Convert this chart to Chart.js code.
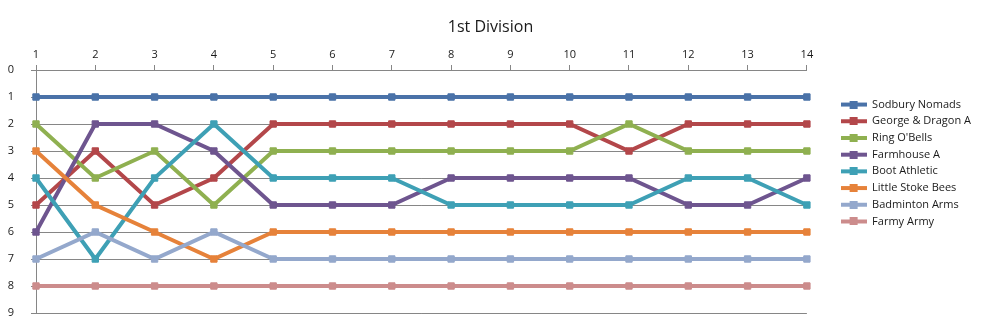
<!DOCTYPE html>
<html>
<head>
<meta charset="utf-8">
<script src="https://cdn.jsdelivr.net/npm/chart.js@4.4.1/dist/chart.umd.min.js"></script>
<style>
  html, body { margin: 0; padding: 0; background: #fff; }
  #wrap { width: 988px; height: 326px; }
</style>
</head>
<body>
<div id="wrap"><canvas id="league"></canvas></div>
<script>
// league position after each round (1 = top of the table)
var rounds = ['1', '2', '3', '4', '5', '6', '7', '8', '9', '10', '11', '12', '13', '14'];
var positionTicks = [0, 1, 2, 3, 4, 5, 6, 7, 8, 9];

var sodburyNomads   = [1, 1, 1, 1, 1, 1, 1, 1, 1, 1, 1, 1, 1, 1];
var georgeDragonA   = [5, 3, 5, 4, 2, 2, 2, 2, 2, 2, 3, 2, 2, 2];
var ringOBells      = [2, 4, 3, 5, 3, 3, 3, 3, 3, 3, 2, 3, 3, 3];
var farmhouseA      = [6, 2, 2, 3, 5, 5, 5, 4, 4, 4, 4, 5, 5, 4];
var bootAthletic    = [4, 7, 4, 2, 4, 4, 4, 5, 5, 5, 5, 4, 4, 5];
var littleStokeBees = [3, 5, 6, 7, 6, 6, 6, 6, 6, 6, 6, 6, 6, 6];
var badmintonArms   = [7, 6, 7, 6, 7, 7, 7, 7, 7, 7, 7, 7, 7, 7];
var farmyArmy       = [8, 8, 8, 8, 8, 8, 8, 8, 8, 8, 8, 8, 8, 8];

var teamNames = ['Sodbury Nomads', 'George & Dragon A', "Ring O'Bells", 'Farmhouse A',
                 'Boot Athletic', 'Little Stoke Bees', 'Badminton Arms', 'Farmy Army'];
var teamPositions = [sodburyNomads, georgeDragonA, ringOBells, farmhouseA,
                     bootAthletic, littleStokeBees, badmintonArms, farmyArmy];
var teamColours = ['#4a72a8', '#b3474a', '#8fb050', '#6e558f',
                   '#3ea0b5', '#e6823a', '#94a8cc', '#cc8c8c'];

var FONT = "'Open Sans', sans-serif";
Chart.defaults.font.family = FONT;
Chart.defaults.color = '#1a1a1a';

// little line-with-square swatch for the legend
function legendMarker(colour) {
  var c = document.createElement('canvas');
  c.width = 26;
  c.height = 8;
  var g = c.getContext('2d');
  g.fillStyle = colour;
  g.fillRect(0, 2, 26, 4);
  g.fillRect(9, 0, 8, 8);
  return c;
}
var markers = teamColours.map(legendMarker);

var datasets = teamNames.map(function(name, i) {
  return {
    label: name,
    data: teamPositions[i],
    borderColor: teamColours[i],
    backgroundColor: teamColours[i],
    borderWidth: 4,
    pointStyle: 'rect',
    pointRadius: 4.5,
    pointBorderWidth: 1,
    tension: 0,
    order: -i   // later series sit on top
  };
});

var leagueChart = new Chart(document.getElementById('league'), {
  type: 'line',
  data: {
    labels: rounds,
    datasets: datasets
  },
  options: {
    responsive: true,
    maintainAspectRatio: false,
    animation: false,
    layout: {
      padding: { right: 7 }
    },
    scales: {
      x: {
        position: 'top',
        offset: false,
        grid: { display: true, drawOnChartArea: false, color: '#868686', tickLength: 5 },
        border: { display: true, color: '#868686' },
        ticks: { padding: 4, font: { size: 11 } },
        afterFit: function(scale) { scale.height = 31.8; }
      },
      y: {
        reverse: true,
        min: positionTicks[0],
        max: positionTicks[positionTicks.length - 1],
        grid: { color: '#868686', tickLength: 5 },
        border: { display: true, color: '#868686' },
        ticks: { stepSize: 1, padding: 17, font: { size: 11 } },
        afterFit: function(scale) {
          scale.width = 36;
          scale.paddingBottom = 13;
        }
      },
      gap: {
        type: 'linear',
        position: 'right',
        display: true,
        grid: { display: false },
        border: { display: false },
        ticks: { display: false },
        afterFit: function(scale) { scale.width = 28; }
      }
    },
    plugins: {
      title: {
        display: true,
        text: '1st Division',
        color: '#1a1a1a',
        font: { size: 16, weight: 'normal' },
        padding: { top: 18, bottom: 1 }
      },
      legend: {
        position: 'right',
        align: 'center',
        labels: {
          usePointStyle: true,
          pointStyleWidth: 26,
          boxHeight: 8,
          padding: 5.7,
          font: { size: 11 },
          sort: function(a, b) { return a.datasetIndex - b.datasetIndex; },
          generateLabels: function(chart) {
            var items = Chart.defaults.plugins.legend.labels.generateLabels(chart);
            items.forEach(function(item) { item.pointStyle = markers[item.datasetIndex]; });
            return items;
          }
        }
      },
      tooltip: { enabled: false }
    }
  }
});
</script>
</body>
</html>
